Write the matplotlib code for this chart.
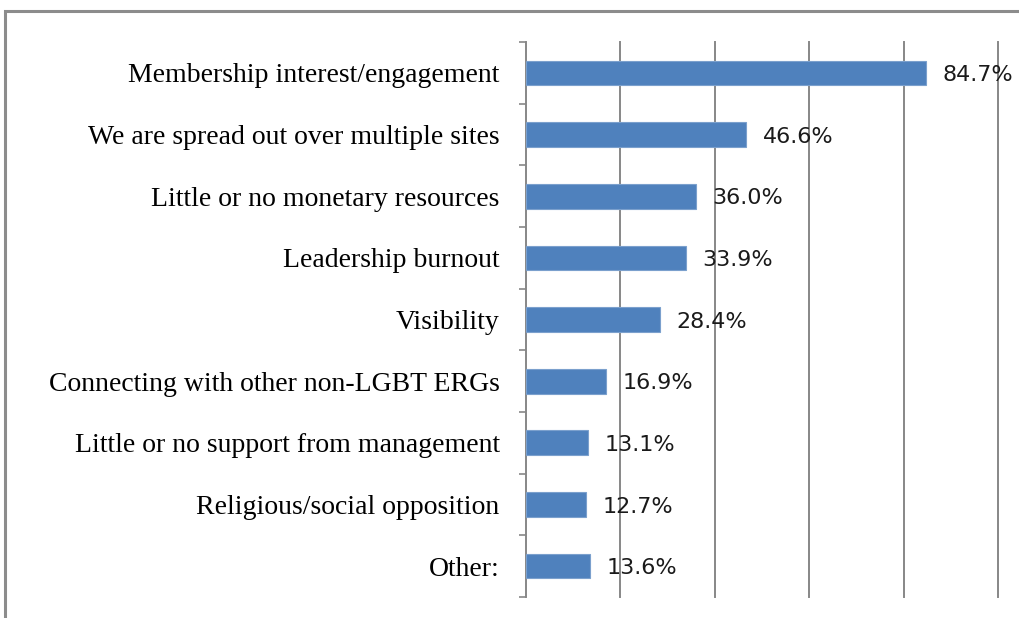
import matplotlib
matplotlib.use("Agg")
import matplotlib.pyplot as plt
from matplotlib.patches import Rectangle
import numpy as np

categories = ["Membership interest/engagement", "We are spread out over multiple sites",
              "Little or no monetary resources", "Leadership burnout", "Visibility",
              "Connecting with other non-LGBT ERGs", "Little or no support from management",
              "Religious/social opposition", "Other:"]
values = [84.7, 46.6, 36.0, 33.9, 28.4, 16.9, 13.1, 12.7, 13.6]

BLUE = "#4F81BD"; GRID = "#878787"

fig = plt.figure(figsize=(10.2, 6.18), dpi=100)
ax = fig.add_axes([0.5157, 0.034, 0.4627, 0.898])

y = np.arange(len(categories))
ax.barh(y, values, height=0.4, color=BLUE, edgecolor="#7BA0CD", linewidth=0.8, zorder=3)
for yi, v in zip(y, values):
    ax.annotate(f"{v:.1f}%", (v, yi), xytext=(12, -1.5), textcoords="offset points",
                ha="left", va="center", fontsize=16, color="#1a1a1a", zorder=4)

ax.set_xlim(0, 100)
ax.set_ylim(len(categories) - 0.5, -0.5)
ax.set_xticks([20, 40, 60, 80, 100])
ax.xaxis.grid(True, color=GRID, lw=1.4, zorder=1)
for gl in ax.get_xgridlines():
    gl.set_clip_on(False)
ax.tick_params(axis="x", length=0, labelbottom=False)
ax.set_yticks(y)
ax.set_yticklabels(categories, family="Liberation Serif", fontsize=20)
ax.set_yticks(np.arange(-0.5, len(categories)), minor=True)
ax.tick_params(axis="y", which="major", length=0, pad=19)
ax.tick_params(axis="y", which="minor", length=5, width=1.2, color=GRID, direction="out")
for s in ["top", "right", "bottom"]:
    ax.spines[s].set_visible(False)
ax.spines["left"].set_color(GRID)
ax.spines["left"].set_linewidth(1.4)

# outer frame of the pasted chart
fig.patches.append(Rectangle((5 / 1020, -0.1), 1.2, 1 - 11 / 618 + 0.1, transform=fig.transFigure,
                             fill=False, edgecolor="#8c8c8c", lw=2.2))

fig.savefig("out.png", dpi=100, facecolor="white")
